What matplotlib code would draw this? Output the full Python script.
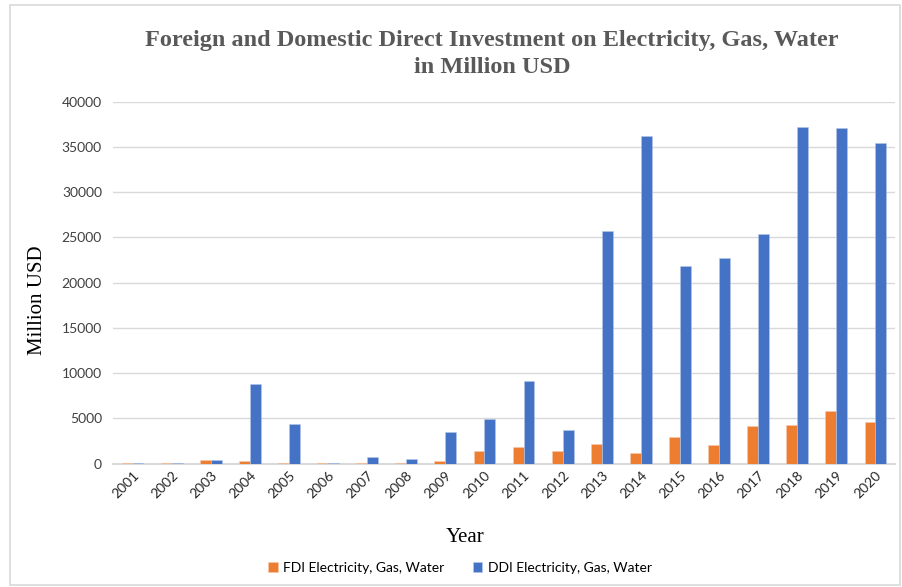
import matplotlib
matplotlib.use("Agg")
import matplotlib.pyplot as plt
import numpy as np
from matplotlib.patches import Rectangle

years = [str(y) for y in range(2001, 2021)]
fdi = [50, 50, 400, 300, 50, 50, 80, 100, 300, 1440,
       1820, 1440, 2190, 1220, 2960, 2080, 4220, 4330, 5850, 4630]
ddi = [60, 60, 450, 8800, 4400, 60, 780, 490, 3490, 4930,
       9190, 3740, 25700, 36220, 21880, 22720, 25330, 37180, 37070, 35440]
yticks = list(range(0, 40001, 5000))

title = "Foreign and Domestic Direct Investment on Electricity, Gas, Water\nin Million USD"
fdi_label = "FDI Electricity, Gas, Water"
ddi_label = "DDI Electricity, Gas, Water"

W, H = 902, 587
fig = plt.figure(figsize=(W/100, H/100), dpi=100)
fig.patch.set_facecolor("white")
# chart-area border
fig.add_artist(Rectangle((10/W, 2/H), (W-12)/W, (H-7)/H, transform=fig.transFigure,
                         fill=False, edgecolor="#d9d9d9", linewidth=1.2))

ax = fig.add_axes([113/W, 1-463.7/H, (895-113)/W, (463.7-101.7)/H])
x = np.arange(len(years))
bw = 0.28
ax.bar(x - bw/2, fdi, bw, color="#ED7D31", label=fdi_label, zorder=3,
       edgecolor="#f8cbad", linewidth=0.4)
ax.bar(x + bw/2, ddi, bw, color="#4472C4", label=ddi_label, zorder=3,
       edgecolor="#b4c7e7", linewidth=0.4)

ax.set_xlim(-0.5, len(years) - 0.5)
ax.set_ylim(0, 40000)
ax.set_yticks(yticks)
ax.set_yticklabels([str(v) for v in yticks], fontsize=10, color="#404040", family="Lato")
ax.yaxis.grid(True, color="#d9d9d9", linewidth=1.0, zorder=0)
ax.set_xticks(x)
ax.set_xticklabels(years, rotation=45, ha="right", rotation_mode="anchor",
                   fontsize=10, color="#262626", family="Lato")
ax.tick_params(axis="both", length=0, pad=8)
ax.tick_params(axis="x", pad=4)
for s in ["top", "right", "left"]:
    ax.spines[s].set_visible(False)
ax.spines["bottom"].set_color("#d9d9d9")
ax.spines["bottom"].set_linewidth(1.5)

fig.text(492/W, 1-54/H, title, ha="center", va="center", fontsize=17.5,
         fontweight="bold", color="#595959", family="Liberation Serif", linespacing=1.4)
fig.text(38/W, 1-300/H, "Million USD", rotation=90, ha="center", va="center",
         fontsize=15, color="black", family="Liberation Serif")
fig.text(465/W, 1-537/H, "Year", ha="center", va="center",
         fontsize=15, color="black", family="Liberation Serif")

fig.legend(loc="center", bbox_to_anchor=(460/W, 1-568/H), ncol=2, frameon=False,
           prop={"family": "Lato", "size": 10}, handlelength=0.7, handleheight=0.7,
           columnspacing=2.0, handletextpad=0.4)

fig.savefig("out.png", dpi=100, facecolor="white")
